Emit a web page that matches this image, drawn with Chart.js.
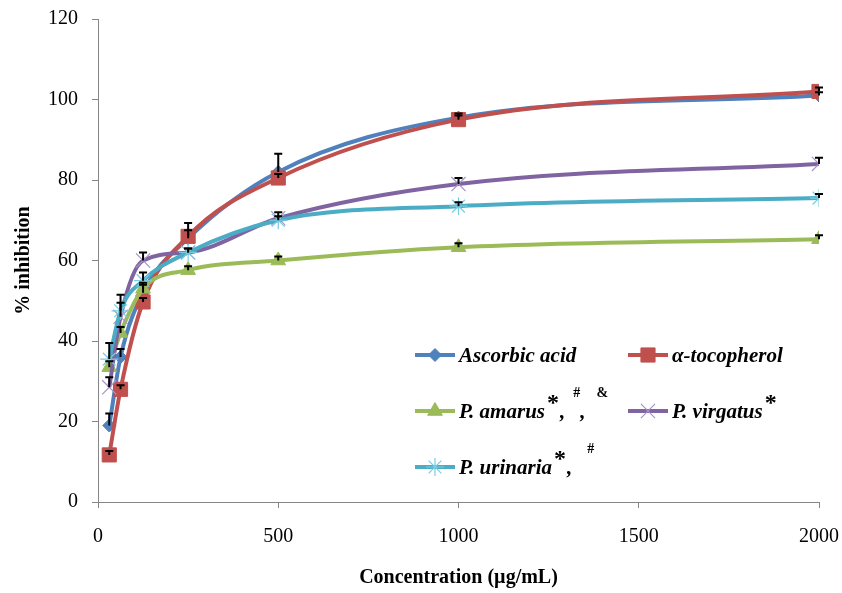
<!DOCTYPE html>
<html>
<head>
<meta charset="utf-8">
<script src="https://cdn.jsdelivr.net/npm/chart.js@4/dist/chart.umd.min.js"></script>
<style>
  html, body { margin: 0; padding: 0; background: #ffffff; }
  #wrap { width: 842px; height: 593px; }
</style>
</head>
<body>
<div id="wrap"><canvas id="c" width="842" height="593"></canvas></div>
<script>
// Concentrations tested (µg/mL)
const concentrations = [31.25, 62.5, 125, 250, 500, 1000, 2000];

// % inhibition for each sample
const ascorbicAcid    = [19.0, 36.0, 52.0, 65.5, 82.0, 95.5, 101.0];
const alphaTocopherol = [11.7, 28.0, 49.7, 66.0, 80.5, 95.0, 102.0];
const pAmarus         = [33.5, 42.0, 53.0, 57.6, 60.0, 63.3, 65.3];
const pVirgatus       = [28.5, 46.0, 60.0, 62.0, 70.5, 79.0, 84.0];
const pUrinaria       = [35.5, 47.5, 55.0, 62.0, 70.0, 73.5, 75.5];

// Standard deviations (upper error bars)
const ascorbicAcidSD    = [3.0, 2.0, 2.0, 2.0, 4.5, 1.0, 0.8];
const alphaTocopherolSD = [1.0, 1.0, 1.0, 3.3, 1.0, 1.0, 1.0];
const pAmarusSD         = [1.5, 1.5, 1.5, 1.0, 1.0, 1.0, 1.0];
const pVirgatusSD       = [2.5, 5.5, 2.0, 1.0, 1.5, 1.5, 1.5];
const pUrinariaSD       = [4.0, 2.0, 2.0, 1.0, 1.0, 1.0, 1.0];

// Axis ticks
const xTickValues = [0, 500, 1000, 1500, 2000];
const yTickValues = [0, 20, 40, 60, 80, 100, 120];

const FONT = '"Liberation Serif", "Times New Roman", serif';

const series = [
  { name: 'Ascorbic acid', values: ascorbicAcid, sd: ascorbicAcidSD,
    color: '#4F81BD', marker: 'rectRot', radius: 6.5, markerFill: '#4F81BD', markerBorder: '#4F81BD', markerWidth: 1,
    label: [{ t: 'Ascorbic acid' }] },
  { name: 'α-tocopherol', values: alphaTocopherol, sd: alphaTocopherolSD,
    color: '#C0504D', marker: 'rect', radius: 10, markerFill: '#C0504D', markerBorder: '#C0504D', markerWidth: 1,
    label: [{ t: 'α-tocopherol' }] },
  { name: 'P. amarus', values: pAmarus, sd: pAmarusSD,
    color: '#9BBB59', marker: 'triangle', radius: 8.5, markerFill: '#9BBB59', markerBorder: '#9BBB59', markerWidth: 1,
    label: [{ t: 'P. amarus' }, { t: '*', sup: 'star' }, { t: ',' }, { t: '#', sup: 'sym', gap: 8 }, { t: ',' }, { t: '&', sup: 'sym', gap: 11 }] },
  { name: 'P. virgatus', values: pVirgatus, sd: pVirgatusSD,
    color: '#8064A2', marker: 'crossRot', radius: 10, markerFill: 'rgba(0,0,0,0)', markerBorder: '#A893C6', markerWidth: 1.2,
    label: [{ t: 'P. virgatus' }, { t: '*', sup: 'star' }] },
  { name: 'P. urinaria', values: pUrinaria, sd: pUrinariaSD,
    color: '#4BACC6', marker: 'star', radius: 9, markerFill: 'rgba(0,0,0,0)', markerBorder: '#7CCBE0', markerWidth: 1.2,
    label: [{ t: 'P. urinaria' }, { t: '*', sup: 'star' }, { t: ',' }, { t: '#', sup: 'sym', gap: 15 }] }
];

const datasets = series.map((s, i) => ({
  label: s.name,
  data: concentrations.map((c, k) => ({ x: c, y: s.values[k] })),
  sd: s.sd,
  borderColor: s.color,
  borderWidth: 4,
  backgroundColor: s.color,
  cubicInterpolationMode: 'monotone',
  pointStyle: s.marker,
  pointRadius: s.radius,
  pointBackgroundColor: s.markerFill,
  pointBorderColor: s.markerBorder,
  pointBorderWidth: s.markerWidth,
  order: series.length - 1 - i
}));

// Upper SD bars with caps, drawn over the series
const errorBars = {
  id: 'errorBars',
  afterDatasetsDraw(chart) {
    const { ctx, scales: { x, y } } = chart;
    ctx.save();
    ctx.strokeStyle = '#000000';
    ctx.lineWidth = 2;
    chart.data.datasets.forEach(ds => {
      ds.data.forEach((p, k) => {
        const e = ds.sd[k];
        const px = x.getPixelForValue(p.x);
        const top = y.getPixelForValue(p.y + e);
        const mid = y.getPixelForValue(p.y);
        ctx.beginPath();
        ctx.moveTo(px, top); ctx.lineTo(px, mid);
        ctx.moveTo(px - 4, top); ctx.lineTo(px + 4, top);
        ctx.stroke();
      });
    });
    ctx.restore();
  }
};

// Legend placed inside the plot, with superscript significance marks
const legendRows = [
  { x: 415, y: 355, idx: 0 }, { x: 628, y: 355, idx: 1 },
  { x: 415, y: 411, idx: 2 }, { x: 628, y: 411, idx: 3 },
  { x: 415, y: 467, idx: 4 }
];

const insideLegend = {
  id: 'insideLegend',
  afterDraw(chart) {
    const ctx = chart.ctx;
    ctx.save();
    legendRows.forEach(r => {
      const s = series[r.idx];
      ctx.strokeStyle = s.color;
      ctx.lineWidth = 4;
      ctx.beginPath();
      ctx.moveTo(r.x, r.y); ctx.lineTo(r.x + 40, r.y);
      ctx.stroke();
      ctx.fillStyle = s.markerFill;
      ctx.strokeStyle = s.markerBorder;
      ctx.lineWidth = s.markerWidth;
      Chart.helpers.drawPoint(ctx, {
        pointStyle: s.marker, radius: s.radius, rotation: 0, borderWidth: s.markerWidth
      }, r.x + 20, r.y);

      let cx = r.x + 44;
      ctx.fillStyle = '#000000';
      ctx.textBaseline = 'alphabetic';
      ctx.textAlign = 'left';
      const base = r.y + 7;
      s.label.forEach(seg => {
        cx += seg.gap || 0;
        if (seg.sup === 'star') {
          ctx.font = 'bold 24px ' + FONT;
          ctx.fillText(seg.t, cx + 2, base - 8);
          cx += ctx.measureText(seg.t).width + 3;
        } else if (seg.sup === 'sym') {
          ctx.font = 'bold 14px ' + FONT;
          ctx.fillText(seg.t, cx, base - 21);
          cx += ctx.measureText(seg.t).width;
        } else {
          ctx.font = 'bold italic 21px ' + FONT;
          ctx.fillText(seg.t, cx, base);
          cx += ctx.measureText(seg.t).width;
        }
      });
    });
    ctx.restore();
  }
};

new Chart(document.getElementById('c'), {
  type: 'line',
  data: { datasets },
  plugins: [errorBars, insideLegend],
  options: {
    responsive: false,
    animation: false,
    layout: { padding: { left: 0, top: 19, right: 23, bottom: 0 } },
    plugins: { legend: { display: false }, tooltip: { enabled: false } },
    scales: {
      x: {
        type: 'linear',
        min: 0, max: 2000,
        afterBuildTicks(scale) { scale.ticks = xTickValues.map(v => ({ value: v })); },
        afterFit(scale) { scale.height = 91; scale.paddingLeft = 0; scale.paddingRight = 0; },
        border: { color: '#868686', width: 1 },
        grid: { drawOnChartArea: false, color: '#868686', tickLength: 6 },
        ticks: { color: '#000000', font: { family: FONT, size: 20 }, padding: 17, maxRotation: 0,
                 callback: v => String(v) },
        title: { display: true, text: 'Concentration (µg/mL)', color: '#000000',
                 font: { family: FONT, size: 20, weight: 'bold' }, padding: { top: 0, bottom: 3 } }
      },
      y: {
        type: 'linear',
        min: 0, max: 120,
        afterBuildTicks(scale) { scale.ticks = yTickValues.map(v => ({ value: v })); },
        afterFit(scale) { scale.width = 98; scale.paddingTop = 0; scale.paddingBottom = 0; },
        border: { color: '#868686', width: 1 },
        grid: { drawOnChartArea: false, color: '#868686', tickLength: 6 },
        ticks: { color: '#000000', font: { family: FONT, size: 20 }, padding: 14,
                 callback: v => String(v) },
        title: { display: true, text: '% inhibition', color: '#000000',
                 font: { family: FONT, size: 20, weight: 'bold' }, padding: { top: 12, bottom: 0 } }
      }
    }
  }
});
</script>
</body>
</html>
